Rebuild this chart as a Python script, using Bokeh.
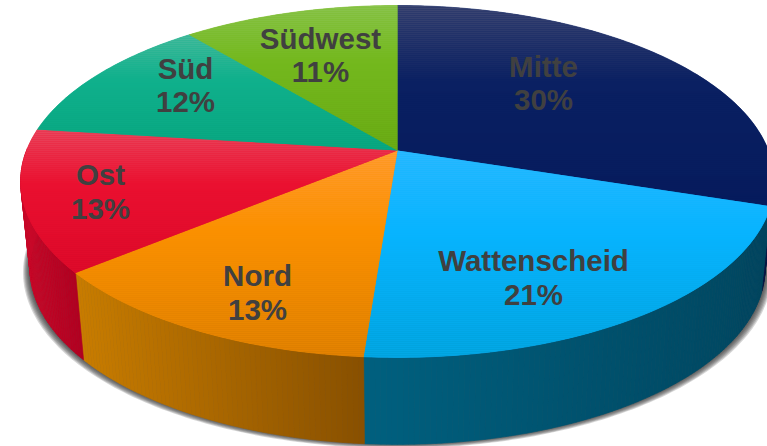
import math
from bokeh.plotting import figure
from bokeh.models import ColumnDataSource
from bokeh.core.properties import value
from bokeh.embed import file_html
from bokeh.resources import INLINE

# ---- data ----
regions = ["Mitte", "Wattenscheid", "Nord", "Ost", "Süd", "Südwest"]
shares = [30, 21.2, 12.8, 13, 12, 11]

# ---- styles ----
top_light = ["#3d4772", "#2cb8ff", "#ff9c34", "#e9475e", "#48ba9c", "#8ac44e"]
top_base = ["#0a2062", "#08b4ff", "#fb9000", "#ea1030", "#10b08c", "#74b81e"]
top_dark = ["#051a5c", "#00a2dc", "#dc7e00", "#da0828", "#06a47e", "#68a812"]
side_from = ["#0a1a44", "#00607f", "#c87c00", "#c80a2a", "#0a1a44", "#0a1a44"]
side_to = ["#0a1a44", "#004660", "#885000", "#b00020", "#0a1a44", "#0a1a44"]
label_x = [543, 533, 257, 100, 185, 320]
label_y = [[66, 99], [260, 294], [275, 309], [174, 208], [68, 101], [38, 71]]

CX, CY, A, B, K = 397.0, 150.0, 371.0, 170.5, 0.176
DEPTH, SHRINK = 87.0, 0.975


def project(frac):
    th = 2 * math.pi * frac
    u, v = math.sin(th), math.cos(th)
    d = 1 + K * v
    return CX + A * u / d, CY - B * v / d


def lower(pt):
    return CX + SHRINK * (pt[0] - CX), pt[1] + DEPTH


def hexrgb(c):
    return tuple(int(c[i:i + 2], 16) for i in (1, 3, 5))


def mix(c1, c2, t):
    a, b = hexrgb(c1), hexrgb(c2)
    return "#%02x%02x%02x" % tuple(round(a[i] + (b[i] - a[i]) * t) for i in range(3))


def clip_band(poly, y0, y1):
    def clip(pts, keep, cross):
        out = []
        for i, p in enumerate(pts):
            q = pts[(i + 1) % len(pts)]
            if keep(p):
                out.append(p)
            if keep(p) != keep(q):
                out.append(cross(p, q))
        return out

    def at(y):
        return lambda p, q: (p[0] + (q[0] - p[0]) * (y - p[1]) / (q[1] - p[1]), y)

    pts = clip(poly, lambda p: p[1] >= y0, at(y0))
    if pts:
        pts = clip(pts, lambda p: p[1] <= y1, at(y1))
    return pts


p = figure(width=767, height=446, x_range=(0, 767), y_range=(446, 0),
           output_backend="svg", toolbar_location=None, min_border=0,
           outline_line_color=None, background_fill_color="white", border_fill_color="white")
p.axis.visible = False
p.grid.visible = False
p.xaxis.visible = False
p.yaxis.visible = False

total = sum(shares)
edges = [0.0]
for s in shares:
    edges.append(edges[-1] + s / total)

# shadow beneath the body
ring = [lower(project(i / 360)) for i in range(360)]
for i in range(1, 8):
    e = i * 1.0
    xs = [CX + (x - CX) * (1 + e / 367) for x, y in ring]
    ys = [y + e * 0.7 - 1 for x, y in ring]
    p.patch(xs, ys, fill_color="#303030", fill_alpha=0.2, line_color=None)

# side wall
sx, sy, sc = [], [], []
for idx in range(len(shares)):
    f0, f1 = edges[idx], edges[idx + 1]
    n = max(2, int((f1 - f0) * 500))
    arcs = [project(f0 + (f1 - f0) * j / n) for j in range(n + 1)]
    xmin, xmax = min(a[0] for a in arcs), max(a[0] for a in arcs)
    for j in range(n):
        a, b = arcs[j], arcs[j + 1]
        if max(a[1], b[1]) < 150:
            continue
        la, lb = lower(a), lower(b)
        sx.append([a[0], b[0], lb[0], la[0]])
        sy.append([a[1], b[1], lb[1], la[1]])
        t = (xmax - (a[0] + b[0]) / 2) / max(xmax - xmin, 1)
        sc.append(mix(side_from[idx], side_to[idx], 1 - t if idx else t))
p.patches(xs="x", ys="y", color="c", line_width=0.6,
          source=ColumnDataSource(dict(x=sx, y=sy, c=sc)))

# top face: solid slice under whole-pixel gradient bands
bx, by, bc = [], [], []
tx, ty, tc = [], [], []
for idx in range(len(shares)):
    f0, f1 = edges[idx], edges[idx + 1]
    n = max(8, int((f1 - f0) * 360))
    poly = [(CX, CY)] + [project(f0 + (f1 - f0) * j / n) for j in range(n + 1)]
    ytop = min(q[1] for q in poly)
    ybot = max(q[1] for q in poly)
    bx.append([q[0] for q in poly])
    by.append([q[1] for q in poly])
    bc.append(top_base[idx])
    y = math.floor(ytop)
    while y < ybot:
        band = clip_band(poly, y, y + 2)
        if len(band) >= 3:
            t = max(0.0, (y + 1 - ytop) / (ybot - ytop))
            if t < 0.38:
                col = mix(top_light[idx], top_base[idx], t / 0.38)
            else:
                col = mix(top_base[idx], top_dark[idx], (t - 0.38) / 0.62)
            tx.append([q[0] for q in band])
            ty.append([q[1] for q in band])
            tc.append(col)
        y += 2
p.patches(xs="x", ys="y", color="c", line_width=0.6,
          source=ColumnDataSource(dict(x=bx, y=by, c=bc)))
p.patches(xs="x", ys="y", fill_color="c", line_color=None,
          source=ColumnDataSource(dict(x=tx, y=ty, c=tc)))

# labels
lx, ly, lt = [], [], []
for idx, name in enumerate(regions):
    lx += [label_x[idx], label_x[idx]]
    ly += label_y[idx]
    lt += [name, f"{round(shares[idx])}%"]
p.text(x="x", y="y", text="t", source=ColumnDataSource(dict(x=lx, y=ly, t=lt)),
       text_font=value("Liberation Sans"), text_font_style="bold", text_font_size="29.5px",
       text_color="#404040", text_align="center", text_baseline="middle")

open("out.html", "w").write(file_html(p, INLINE))
